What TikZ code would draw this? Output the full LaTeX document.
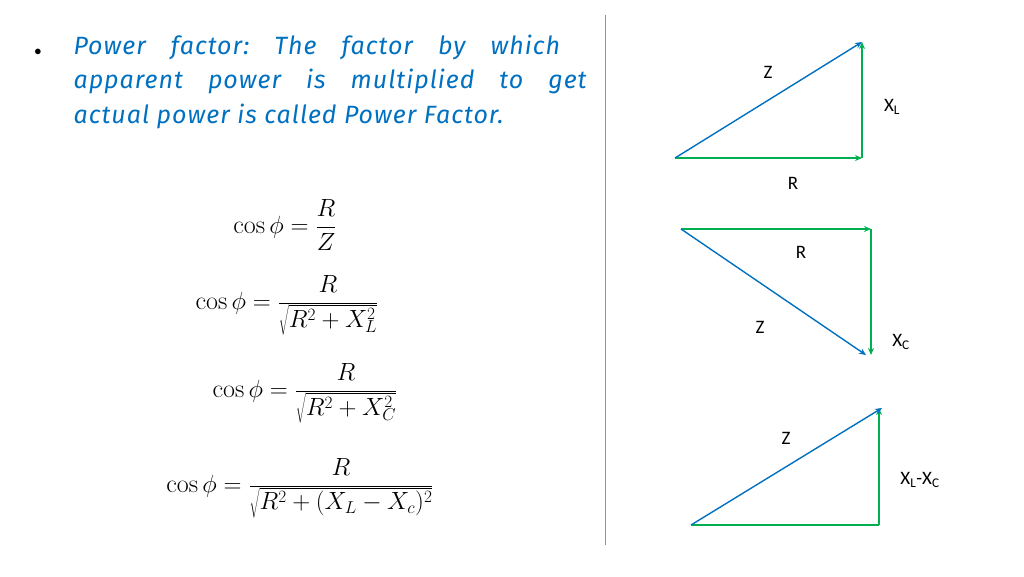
\documentclass[tikz,border=0pt]{standalone}
\usepackage{fontspec}
\setsansfont{Carlito}
\newfontfamily\handfont[LetterSpace=4]{Fira Sans}
\usetikzlibrary{arrows.meta}
\definecolor{tblue}{RGB}{0,112,192}
\definecolor{vblue}{RGB}{0,112,192}
\definecolor{vgreen}{RGB}{0,176,80}
\definecolor{sep}{RGB}{120,150,200}
\begin{document}
\begin{tikzpicture}[x=1pt,y=-1pt,
  vec/.style={line width=1.4pt,-{Stealth[length=7pt,width=6pt]}},
  zv/.style={vec,draw=vblue},
  gv/.style={vec,draw=vgreen},
  gl/.style={line width=1.4pt,draw=vgreen},
  lab/.style={font=\sffamily\fontsize{19}{22}\selectfont},
  eq/.style={font=\fontsize{26}{30}\selectfont,anchor=center},
  txt/.style={font=\handfont\itshape\fontsize{25}{34.5}\selectfont,text=tblue,anchor=north west,align=left}]
\useasboundingbox (0,0) rectangle (1024,576);
\draw[sep,line width=0.8pt] (605,15) -- (605,545);
\node[anchor=center,font=\fontsize{14}{14}\selectfont] (b) at (38,52) {$\bullet$};
\node[txt] (t) at (70,31) {Power\quad factor:\quad The\quad factor\quad by\quad which\\apparent\quad power\quad is\quad multiplied\quad to\quad get\\actual\ power\ is\ called\ Power\ Factor.};
\node[eq] (e1) at (285,225) {$\displaystyle\cos\phi=\frac{R}{Z}$};
\node[eq] (e2) at (287,305) {$\displaystyle\cos\phi=\frac{R}{\sqrt{R^2+X_L^2}}$};
\node[eq] (e3) at (305,393) {$\displaystyle\cos\phi=\frac{R}{\sqrt{R^2+X_C^2}}$};
\node[eq] (e4) at (300,488) {$\displaystyle\cos\phi=\frac{R}{\sqrt{R^2+(X_L-X_c)^2}}$};
% triangle 1
\coordinate (a1) at (675,158); \coordinate (b1) at (862,158); \coordinate (c1) at (862,42);
\draw[gv] (a1) -- (b1); \draw[gv] (b1) -- (c1); \draw[zv] (a1) -- (c1);
\node[lab] (z1) at (768,72) {Z};
\node[lab] (x1) at (892,107) {X\textsubscript{L}};
\node[lab] (r1) at (793,183) {R};
% triangle 2
\coordinate (a2) at (681,229); \coordinate (b2) at (871,229); \coordinate (c2) at (871,355); \coordinate (d2) at (866,355);
\draw[gv] (a2) -- (b2); \draw[gv] (b2) -- (c2); \draw[zv] (a2) -- (d2);
\node[lab] (r2) at (801,252) {R};
\node[lab] (z2) at (760,327) {Z};
\node[lab] (x2) at (901,342) {X\textsubscript{C}};
% triangle 3
\coordinate (a3) at (691,525); \coordinate (b3) at (879,525); \coordinate (c3) at (879,408); \coordinate (d3) at (882,408);
\draw[gl] (a3) -- (b3); \draw[gv] (b3) -- (c3); \draw[zv] (a3) -- (d3);
\node[lab] (z3) at (786,438) {Z};
\node[lab] (x3) at (920,480) {X\textsubscript{L}-X\textsubscript{C}};
\end{tikzpicture}
\end{document}
